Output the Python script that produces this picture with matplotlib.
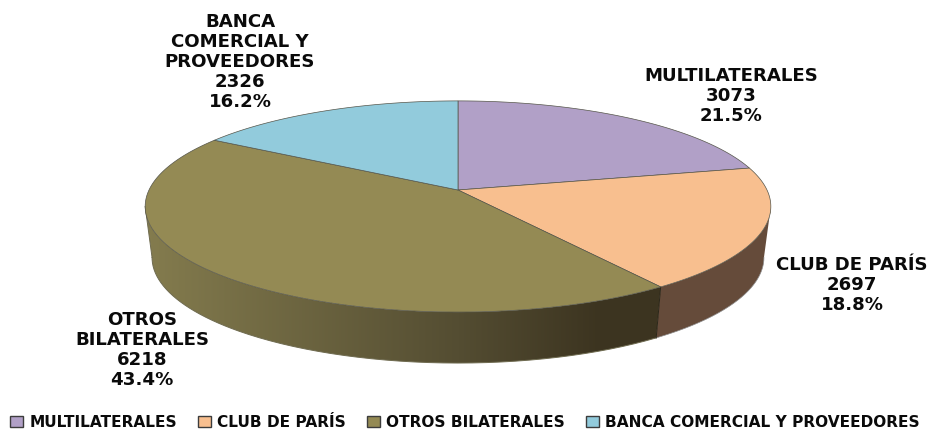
import numpy as np
import matplotlib
matplotlib.use('Agg')
import matplotlib.pyplot as plt
from matplotlib.patches import Patch, Polygon

# saldo por acreedor
categories = ['MULTILATERALES', 'CLUB DE PARÍS', 'OTROS BILATERALES', 'BANCA COMERCIAL Y PROVEEDORES']
label_names = ['MULTILATERALES', 'CLUB DE PARÍS', 'OTROS\nBILATERALES', 'BANCA\nCOMERCIAL Y\nPROVEEDORES']
values = [3073, 2697, 6218, 2326]
colors = ['#B1A0C7', '#F8BF8F', '#948A54', '#92CBDC']
side_colors = ['#8A7C9C', '#654B3A', '#948A54', '#71A0AD']
label_pos = [(731, 96), (852, 285), (142, 350), (240, 62)]

# geometry of the tilted pie, in pixels
CX, CY = 458, 190
RX, RY = 309, 103
K = 0.156          # perspective
DROP_Y = 241       # apex of the lower rim
SCALE_LOW = 0.978


def rim(theta):
    # theta clockwise from 12 o'clock
    x, y = np.sin(theta), np.cos(theta)
    d = 1 + K * y
    return RX * x / d, RY * y / d


def top_pts(theta):
    dx, dy = rim(theta)
    return np.column_stack([CX + dx, CY - dy])


def low_pts(theta):
    dx, dy = rim(theta)
    return np.column_stack([CX + dx * SCALE_LOW, DROP_Y - dy])


fig = plt.figure(figsize=(9.29, 4.29), dpi=100)
ax = fig.add_axes([0, 0, 1, 1])
ax.axis('off')

fractions = np.array(values) / sum(values)
edges = np.concatenate([[0], np.cumsum(fractions)]) * 2 * np.pi

# walls, only the front shows, silhouette is where the rim is widest
tangent = np.arcsin(K)
for i in range(len(values)):
    a0, a1 = max(edges[i], np.pi / 2 + tangent), min(edges[i + 1], 3 * np.pi / 2 - tangent)
    if a1 <= a0:
        continue
    th = np.linspace(a0, a1, 200)
    outline = np.vstack([top_pts(th), low_pts(th)[::-1]])
    if i == 2:
        # big wedge wall is shaded left to right
        xs = np.arange(140, 670)
        grad = np.zeros((1, xs.size, 3))
        grad[0, :, 0] = np.interp(xs, [145, 458, 600, 660], [132, 84, 60, 60]) / 255
        grad[0, :, 1] = np.interp(xs, [145, 458, 600, 660], [124, 77, 52, 52]) / 255
        grad[0, :, 2] = np.interp(xs, [145, 458, 600, 660], [78, 50, 32, 32]) / 255
        im = ax.imshow(grad, extent=(140, 670, 400, 100), aspect='auto', zorder=1)
        clip = Polygon(outline, transform=ax.transData, fc='none', ec='none')
        ax.add_patch(clip)
        im.set_clip_path(clip)
        ax.plot(*low_pts(th).T, color='#6f6b50', lw=0.7, zorder=2)
        ax.plot(*np.vstack([top_pts(th[-1:]), low_pts(th[-1:])]).T, color='#6f6b50', lw=0.7, zorder=2)
    else:
        ax.add_patch(Polygon(outline, fc=side_colors[i], ec='none', zorder=1))
        ax.plot(*low_pts(th).T, color='#8f8f8f', lw=0.5, zorder=2)

ax.set_xlim(0, 929)
ax.set_ylim(429, 0)

# seam between the two visible walls
seam = np.array([edges[2], edges[2]])
ax.plot([top_pts(seam)[0, 0], low_pts(seam)[0, 0]], [top_pts(seam)[0, 1], low_pts(seam)[0, 1]],
        color='#2b2618', lw=0.7, zorder=2)

# top face
for i in range(len(values)):
    th = np.linspace(edges[i], edges[i + 1], 200)
    pts = np.vstack([[CX, CY], top_pts(th)])
    ax.add_patch(Polygon(pts, fc=colors[i], ec='#55554a', lw=0.5, zorder=3))

for i in range(len(values)):
    pct = 100 * values[i] / sum(values)
    ax.text(label_pos[i][0], label_pos[i][1], f'{label_names[i]}\n{values[i]}\n{pct:.1f}%',
            ha='center', va='center', family='DejaVu Sans', fontweight='bold',
            fontsize=13.1, linespacing=1.14, color='#0a0a0a', zorder=5)

handles = [Patch(fc=c, ec='#3c3c3c', lw=1.0) for c in colors]
ax.legend(handles, categories, ncol=4, loc='lower left', bbox_to_anchor=(0.006, -0.012), frameon=False,
          prop={'family': 'DejaVu Sans', 'weight': 'bold', 'size': 11.1},
          handlelength=0.85, handleheight=0.75, handletextpad=0.4, columnspacing=1.35,
          labelcolor='#0a0a0a', borderpad=0.3, borderaxespad=0)

fig.savefig('out.png', dpi=100)
